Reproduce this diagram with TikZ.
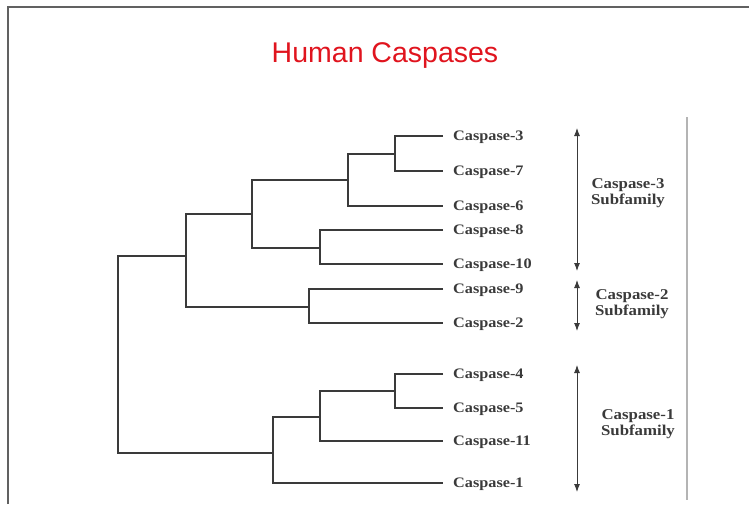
\documentclass[tikz,border=0pt]{standalone}
\usepackage{fontspec}
\setmainfont{Liberation Serif}
\newfontfamily\titlefont{Liberation Sans}
\newfontfamily\scanfont[FakeStretch=1.12]{Liberation Serif}
\usepackage{xcolor}
\usepackage{tikz}
\usetikzlibrary{
  arrows.meta,
  positioning,
}
\definecolor{titlered}{HTML}{E0141E}
\definecolor{treegray}{HTML}{3A3A3A}
\definecolor{scangray}{HTML}{B4B4B4}

\begin{document}
\begin{tikzpicture}[
    x=1pt, y=-1pt,
    leaf/.style={anchor=west, inner xsep=10pt, inner ysep=0pt,
      text height=9.6pt, text depth=0pt,
      font=\scanfont\fontsize{14.5}{17}\selectfont\bfseries, text=treegray},
    branch/.style={draw=treegray, line width=1.4pt},
    span/.style={draw=treegray, line width=0.9pt, {Latex[length=8pt,width=6pt]}-{Latex[length=8pt,width=6pt]}},
    group/.style={align=center, font=\scanfont\fontsize{15}{16.5}\selectfont\bfseries, text=treegray},
  ]
  \useasboundingbox (0,0) rectangle (749,504);

  % slide frame and edge of the scanned figure
  \draw[treegray!80, line width=1.2pt] (8,504) -- (8,7) -- (749,7);
  \draw[scangray, line width=1.6pt] (687,117) -- (687,500);

  \node[font=\titlefont\fontsize{28.5}{32}\selectfont, text=titlered] (title) at (385,56) {Human Caspases};

  % leaves
  \foreach \i/\y in {3/136, 7/171, 6/206, 8/230, 10/264, 9/289, 2/323, 4/374, 5/408, 11/441, 1/483}
    \node[leaf] (c\i) at (443,\y) {Caspase-\i};

  % branch points
  \coordinate (k37)   at (395,154);
  \coordinate (k376)  at (348,180);
  \coordinate (k810)  at (320,248);
  \coordinate (ksub3) at (252,214);
  \coordinate (k92)   at (309,307);
  \coordinate (kup)   at (186,256);
  \coordinate (k45)   at (395,391);
  \coordinate (k4511) at (320,417);
  \coordinate (ksub1) at (273,453);
  \coordinate (kroot) at (118,354);

  \draw[branch] (c3.west) -| (k37) |- (c7.west);
  \draw[branch] (k37) -| (k376) |- (c6.west);
  \draw[branch] (c8.west) -| (k810) |- (c10.west);
  \draw[branch] (k376) -| (ksub3) |- (k810);
  \draw[branch] (c9.west) -| (k92) |- (c2.west);
  \draw[branch] (ksub3) -| (kup) |- (k92);
  \draw[branch] (c4.west) -| (k45) |- (c5.west);
  \draw[branch] (k45) -| (k4511) |- (c11.west);
  \draw[branch] (k4511) -| (ksub1) |- (c1.west);
  \draw[branch] (kup) -| (kroot) |- (ksub1);

  % subfamily spans
  \coordinate (s3a) at (577,128); \coordinate (s3b) at (577,271);
  \coordinate (s2a) at (577,280); \coordinate (s2b) at (577,331);
  \coordinate (s1a) at (577,365); \coordinate (s1b) at (577,492);
  \draw[span] (s3a) -- (s3b);
  \draw[span] (s2a) -- (s2b);
  \draw[span] (s1a) -- (s1b);

  \node[group] (g3) at (628,193) {Caspase-3\\Subfamily};
  \node[group] (g2) at (632,304) {Caspase-2\\Subfamily};
  \node[group] (g1) at (638,424) {Caspase-1\\Subfamily};
\end{tikzpicture}
\end{document}
